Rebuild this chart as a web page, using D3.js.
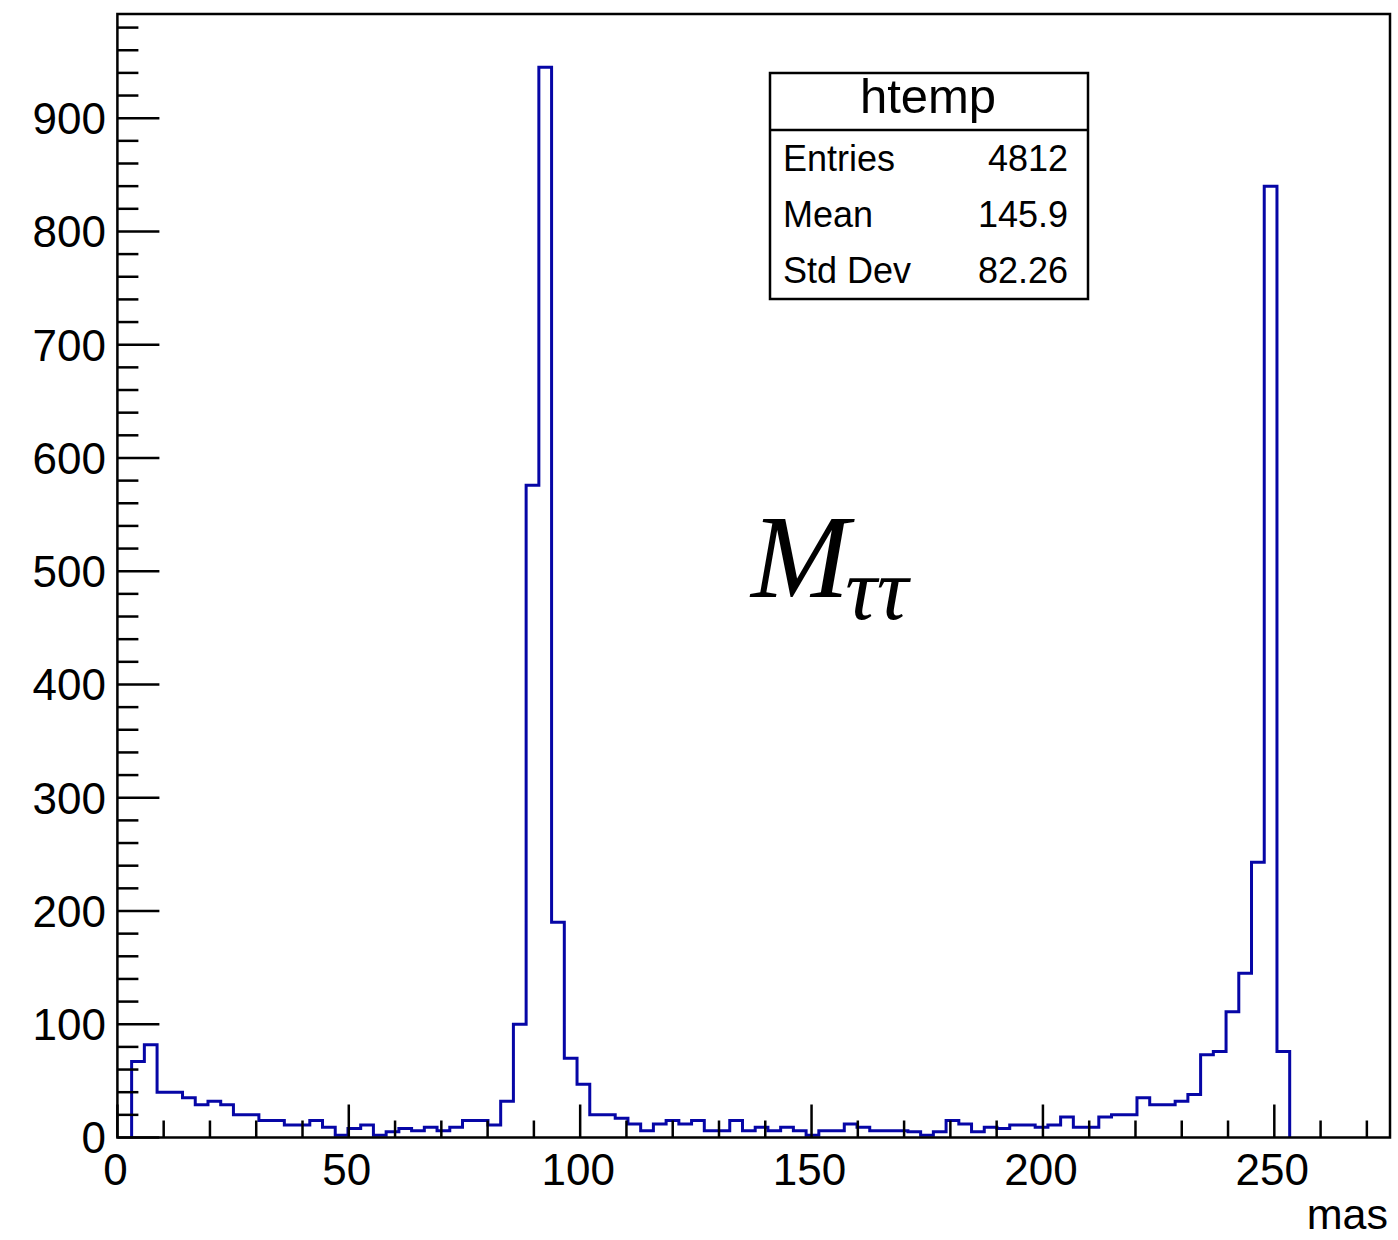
<!DOCTYPE html>
<html><head><meta charset="utf-8">
<script src="https://cdn.jsdelivr.net/npm/d3@7"></script>
<style>body{margin:0;background:#fff}svg{display:block}</style>
</head><body>
<svg id="c" width="1398" height="1240"></svg>
<script>
// ----- data -----
const xDomain = [0, 275];
const yDomain = [0, 992];
const nBins = 100;
const counts = [0,
  67, 82, 40, 40, 35, 29, 32, 29, 20, 20,
  15, 15, 11, 11, 15, 9, 2, 8, 11, 2,
  5, 8, 6, 9, 6, 9, 15, 15, 11, 32,
  100, 576, 945, 190, 70, 47, 20, 20, 17, 12,
  6, 12, 15, 12, 15, 6, 6, 15, 6, 9,
  6, 9, 6, 2, 6, 6, 12, 9, 6, 6,
  6, 5, 2, 5, 15, 12, 5, 9, 8, 11,
  11, 9, 11, 18, 9, 9, 18, 20, 20, 35,
  29, 29, 32, 38, 73, 76, 111, 145, 243, 840,
  76, 0, 0, 0, 0, 0, 0, 0, 0];
const yMajorTicks = [0,100,200,300,400,500,600,700,800,900];
const xMajorTicks = [0,50,100,150,200,250];
const statTitle = "htemp";
const statLabels = ["Entries", "Mean", "Std Dev"];
const statValues = ["4812", "145.9", "82.26"];
const xTitle = "mas";

// ----- layout -----
const L = 117.4, R = 1390, T = 14, B = 1137.5;
const svg = d3.select("#c");
const x = d3.scaleLinear().domain(xDomain).range([L, R]);
const xh = d3.scaleLinear().domain(xDomain).range([L + 1.5, R + 1.5]);
const y = d3.scaleLinear().domain(yDomain).range([B, T]);
const font = "'Liberation Sans', Arial, Helvetica, sans-serif";
const binW = (xDomain[1] - xDomain[0]) / nBins;

// histogram step path
const first = counts.findIndex(v => v > 0);
let last = counts.length - 1; while (counts[last] === 0) last--;
const pts = [[xh(xDomain[0] + first * binW), y(0)]];
for (let k = first; k <= last; k++) {
  const x0 = xh(xDomain[0] + k * binW), x1 = xh(xDomain[0] + (k + 1) * binW);
  pts.push([x0, y(counts[k])], [x1, y(counts[k])]);
}
pts.push([xh(xDomain[0] + (last + 1) * binW), y(0)]);
svg.append("path").attr("d", d3.line()(pts)).attr("fill", "none")
  .attr("stroke", "#0606a6").attr("stroke-width", 3).attr("stroke-linejoin", "miter");

// frame
svg.append("rect").attr("x", L).attr("y", T).attr("width", R - L).attr("height", B - T)
  .attr("fill", "none").attr("stroke", "#000").attr("stroke-width", 2.5);

// y ticks (inside)
const yMinor = d3.range(0, yDomain[1], 20);
svg.append("g").selectAll("line").data(yMinor).join("line")
  .attr("x1", L).attr("x2", d => L + (d % 100 === 0 ? 42 : 21))
  .attr("y1", d => y(d)).attr("y2", d => y(d))
  .attr("stroke", "#000").attr("stroke-width", 2.5);
svg.append("g").selectAll("text").data(yMajorTicks).join("text")
  .attr("x", 106).attr("y", d => y(d)).attr("dy", "0.36em")
  .attr("text-anchor", "end").attr("font-family", font).attr("font-size", 44)
  .text(d => d);

// x ticks (inside)
const xMinor = d3.range(0, xDomain[1], 10);
svg.append("g").selectAll("line").data(xMinor).join("line")
  .attr("y1", B).attr("y2", d => B - (d % 50 === 0 ? 33 : 17))
  .attr("x1", d => x(d)).attr("x2", d => x(d))
  .attr("stroke", "#000").attr("stroke-width", 2.5);
svg.append("g").selectAll("text").data(xMajorTicks).join("text")
  .attr("x", d => x(d) - 2).attr("y", 1185)
  .attr("text-anchor", "middle").attr("font-family", font).attr("font-size", 44)
  .text(d => d);

svg.append("text").attr("x", 1388).attr("y", 1229).attr("text-anchor", "end")
  .attr("font-family", font).attr("font-size", 43).text(xTitle);

// stats box
const sb = {x0: 770, y0: 73, x1: 1088, y1: 299, ySep: 130};
svg.append("rect").attr("x", sb.x0).attr("y", sb.y0).attr("width", sb.x1 - sb.x0)
  .attr("height", sb.y1 - sb.y0).attr("fill", "#fff").attr("stroke", "#000").attr("stroke-width", 2.5);
svg.append("line").attr("x1", sb.x0).attr("x2", sb.x1).attr("y1", sb.ySep).attr("y2", sb.ySep)
  .attr("stroke", "#000").attr("stroke-width", 2.5);
svg.append("text").attr("x", 928).attr("y", 113).attr("text-anchor", "middle")
  .attr("font-family", font).attr("font-size", 49).text(statTitle);
const rowY = [158, 214, 270];
svg.append("g").selectAll("text").data(statLabels).join("text")
  .attr("x", 783).attr("y", (d, i) => rowY[i]).attr("dy", "0.36em")
  .attr("font-family", font).attr("font-size", 36).text(d => d);
svg.append("g").selectAll("text").data(statValues).join("text")
  .attr("x", 1068).attr("y", (d, i) => rowY[i]).attr("dy", "0.36em").attr("text-anchor", "end")
  .attr("font-family", font).attr("font-size", 36).text(d => d);

// LaTeX label M_{tau tau}
const lab = svg.append("text").attr("x", 751).attr("y", 597)
  .attr("font-family", "'Liberation Serif', 'Times New Roman', serif").attr("font-style", "italic");
lab.append("tspan").attr("font-size", 118).text("M");
lab.append("tspan").attr("font-size", 88).attr("dy", 22).attr("dx", -4).text("ττ");
</script>
</body></html>
